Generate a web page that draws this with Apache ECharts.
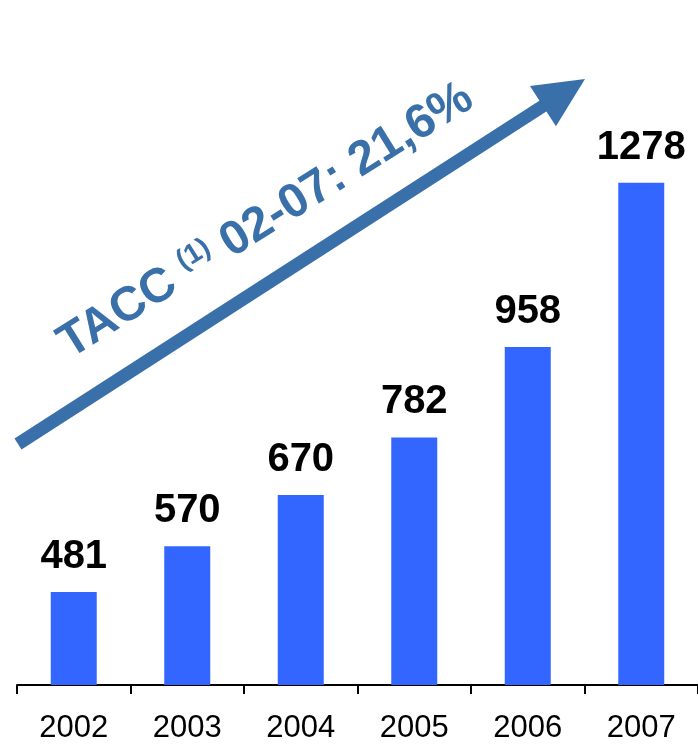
<!DOCTYPE html>
<html>
<head>
<meta charset="utf-8">
<script src="https://cdn.jsdelivr.net/npm/echarts@6/dist/echarts.min.js"></script>
<style>
html,body{margin:0;padding:0;background:#fff;}
#chart{width:698px;height:744px;}
</style>
</head>
<body>
<div id="chart"></div>
<script>
const years = ['2002', '2003', '2004', '2005', '2006', '2007'];
const values = [481, 570, 670, 782, 958, 1278];
const growthLabel = ['TACC ', '(1)', ' 02-07: 21,6%'];

const barColor = '#3366ff';
const arrowColor = '#3a70a9';

const chart = echarts.init(document.getElementById('chart'), null, {renderer: 'canvas'});

// arrow geometry (annotation)
const tip = [585, 79];
const tail = [18, 444];
const dx = tip[0] - tail[0], dy = tip[1] - tail[1];
const len = Math.sqrt(dx * dx + dy * dy);
const ux = dx / len, uy = dy / len;
const nx = -uy, ny = ux;
const headLen = 50, headHalf = 24;
const base = [tip[0] - headLen * ux, tip[1] - headLen * uy];
const textAngle = 32 * Math.PI / 180;

chart.setOption({
  animation: false,
  backgroundColor: '#fff',
  grid: {left: 17, right: 0, top: 120, bottom: 58},
  xAxis: {
    type: 'category',
    data: years,
    axisLine: {lineStyle: {color: '#000', width: 2}},
    axisTick: {show: true, length: 9, lineStyle: {color: '#000', width: 2}},
    axisLabel: {color: '#000', fontSize: 31, fontFamily: 'Liberation Sans, Arial, sans-serif', margin: 28}
  },
  yAxis: {
    type: 'value',
    min: 300,
    max: 1400,
    show: false,
    splitLine: {show: false}
  },
  series: [{
    type: 'bar',
    data: values,
    barWidth: 46,
    itemStyle: {color: barColor},
    label: {
      show: true,
      position: 'top',
      distance: 15,
      color: '#000',
      fontWeight: 'bold',
      fontSize: 40,
      fontFamily: 'Liberation Sans, Arial, sans-serif'
    }
  }],
  graphic: [
    {
      type: 'line',
      shape: {x1: tail[0], y1: tail[1], x2: base[0] + 4 * ux, y2: base[1] + 4 * uy},
      style: {stroke: arrowColor, lineWidth: 13, lineCap: 'butt'}
    },
    {
      type: 'polygon',
      shape: {points: [tip, [base[0] + headHalf * nx, base[1] + headHalf * ny], [base[0] - headHalf * nx, base[1] - headHalf * ny]]},
      style: {fill: arrowColor}
    },
    {
      type: 'text',
      x: 266,
      y: 221,
      rotation: textAngle,
      style: {
        text: '{a|' + growthLabel[0] + '}{s|' + growthLabel[1] + '}{a|' + growthLabel[2] + '}',
        align: 'center',
        verticalAlign: 'middle',
        rich: {
          a: {fontSize: 48, fontWeight: 'bold', fill: arrowColor, color: arrowColor, fontFamily: 'Liberation Sans, Arial, sans-serif'},
          s: {fontSize: 28, fontWeight: 'bold', fill: arrowColor, color: arrowColor, fontFamily: 'Liberation Sans, Arial, sans-serif', verticalAlign: 'top', padding: [0, 0, 10, 0]}
        }
      }
    }
  ]
});
</script>
</body>
</html>
